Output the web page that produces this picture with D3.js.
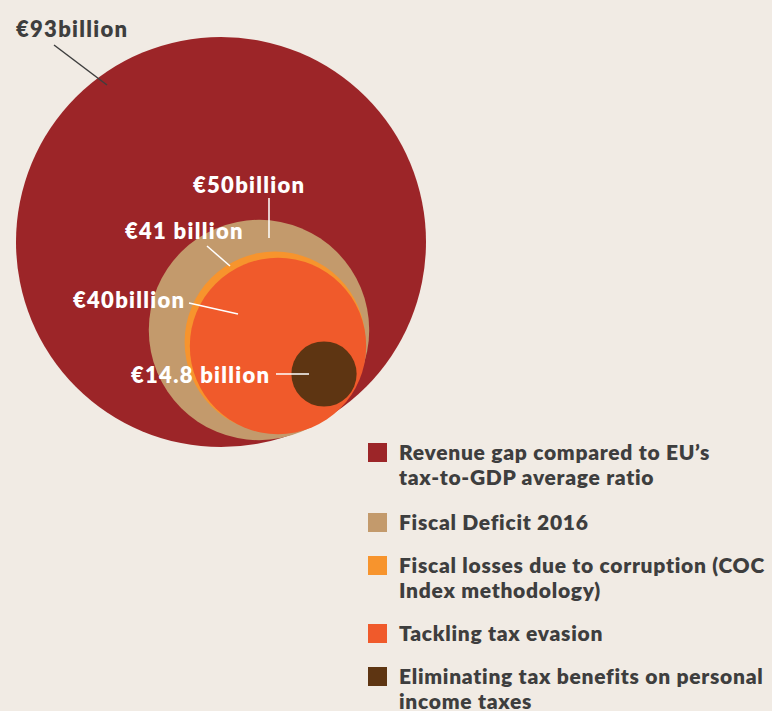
<!DOCTYPE html>
<html>
<head>
<meta charset="utf-8">
<style>
  body { margin: 0; background: #f1ebe4; }
  svg { display: block; }
  text { font-family: Lato, "Open Sans", sans-serif; font-weight: 800; }
</style>
</head>
<body>
<svg width="772" height="711"></svg>
<script src="https://d3js.org/d3.v7.min.js"></script>
<script>

// data (billion euro)
var series = ["Revenue gap", "Fiscal Deficit 2016", "Corruption losses", "Tax evasion", "Tax benefits"];
var values = [93, 50, 41, 40, 14.8];
var valueLabels = ["€93billion", "€50billion", "€41 billion", "€40billion", "€14.8 billion"];
var legendLines = [
  ["Revenue gap compared to EU’s", "tax-to-GDP average ratio"],
  ["Fiscal Deficit 2016"],
  ["Fiscal losses due to corruption (COC", "Index methodology)"],
  ["Tackling tax evasion"],
  ["Eliminating tax benefits on personal", "income taxes"]
];
var colors = ["#9c2528", "#c39a6c", "#f7942d", "#f05a2b", "#5e3512"];

// layout: circle centres, label anchors and leader lines
var centres = [[221, 242], [259, 330], [275, 342], [278, 346], [324, 374]];
var labelPos = [[16, 37], [193, 193], [125, 239], [73, 308], [131, 383]];
var leaders = [[54, 45, 107, 85], [269, 198, 269, 238], [207, 246, 230, 266], [189, 303, 238, 314], [276, 374, 309, 374]];

var svg = d3.select("svg");

// radius is proportional to the value in the original
var r = d3.scaleLinear().domain([0, 93]).range([0, 205]);

svg.append("rect")
  .attr("width", 772)
  .attr("height", 711)
  .attr("fill", "#f1ebe4");

svg.append("g")
  .selectAll("circle")
  .data(values)
  .enter().append("circle")
  .attr("cx", function(d, i) { return centres[i][0]; })
  .attr("cy", function(d, i) { return centres[i][1]; })
  .attr("r", function(d) { return r(d); })
  .attr("fill", function(d, i) { return colors[i]; });

//leader lines
svg.append("g")
  .selectAll("line")
  .data(leaders)
  .enter().append("line")
  .attr("x1", function(d) { return d[0]; })
  .attr("y1", function(d) { return d[1]; })
  .attr("x2", function(d) { return d[2]; })
  .attr("y2", function(d) { return d[3]; })
  .attr("stroke", function(d, i) { return i == 0 ? "#3e3e3e" : "#ffffff"; })
  .attr("stroke-width", 1.5);

svg.append("g")
  .selectAll("text")
  .data(valueLabels)
  .enter().append("text")
  .attr("x", function(d, i) { return labelPos[i][0]; })
  .attr("y", function(d, i) { return labelPos[i][1]; })
  .attr("font-size", 22)
  .attr("letter-spacing", 1.3)
  .attr("fill", function(d, i) { return i == 0 ? "#3e3e3e" : "#ffffff"; })
  .text(function(d) { return d; });

//legend
var legendTop = [443, 513, 556, 624, 667];

var legend = svg.append("g")
  .selectAll("g")
  .data(series)
  .enter().append("g")
  .attr("transform", function(d, i) { return "translate(368," + legendTop[i] + ")"; });

legend.append("rect")
  .attr("width", 19)
  .attr("height", 19)
  .attr("fill", function(d, i) { return colors[i]; });

legend.append("text")
  .attr("font-size", 21)
  .attr("letter-spacing", 0.72)
  .attr("fill", "#3e3e3e")
  .selectAll("tspan")
  .data(function(d, i) { return legendLines[i]; })
  .enter().append("tspan")
  .attr("x", 31)
  .attr("y", function(d, j) { return 17 + j * 25; })
  .text(function(d) { return d; });

</script>
</body>
</html>
